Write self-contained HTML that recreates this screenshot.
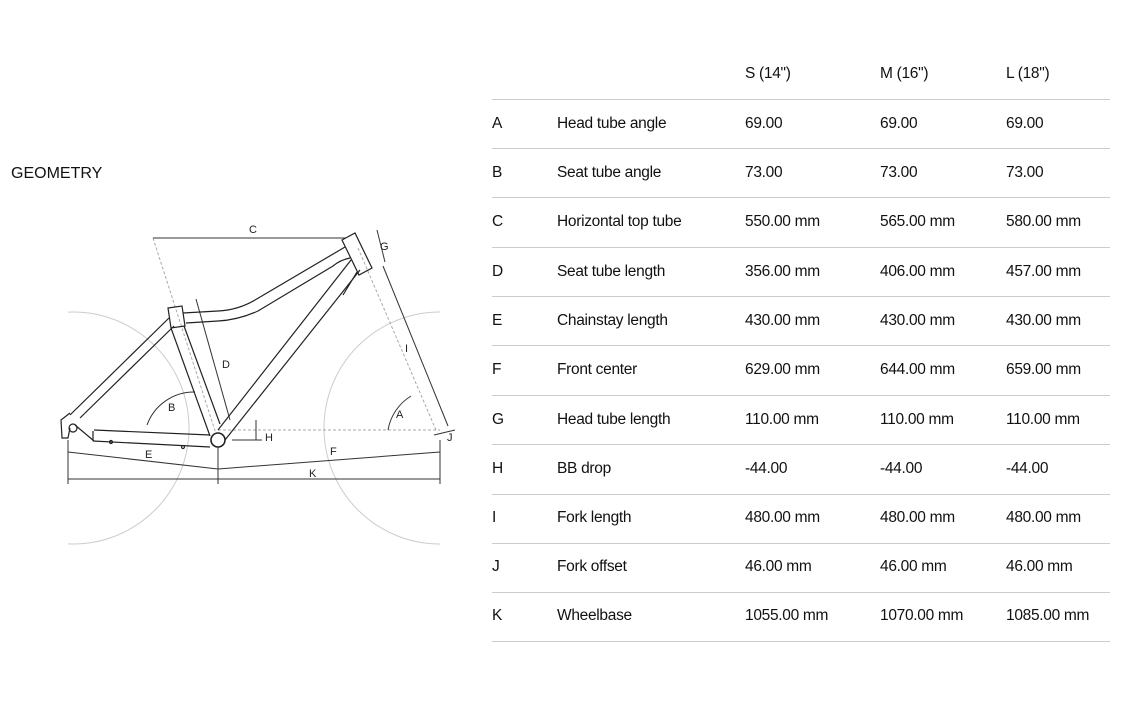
<!DOCTYPE html>
<html><head><meta charset="utf-8"><style>
body{margin:0;width:1134px;height:709px;background:#fff;position:relative;overflow:hidden;font-family:"Liberation Sans",sans-serif;color:#111}
.t{position:absolute;font-size:15.5px;line-height:20px;white-space:nowrap;letter-spacing:-0.3px}
.l{position:absolute;left:492px;width:618px;height:0;border-top:1.5px solid #ccc}
svg{position:absolute;left:0;top:0}
svg text{font-family:"Liberation Sans",sans-serif;font-size:11px;fill:#222}
</style></head><body>
<div class="t" style="left:11px;top:164px;font-size:16px;letter-spacing:0">GEOMETRY</div>
<svg width="500" height="709" viewBox="0 0 500 709">
<defs><clipPath id="cw"><rect x="68" y="0" width="372" height="709"/></clipPath></defs>
<g fill="none" stroke="#ccc" stroke-width="1" clip-path="url(#cw)">
<circle cx="73" cy="428" r="116"/>
<circle cx="440" cy="428" r="116"/>
</g>
<g fill="none" stroke="#aaa" stroke-width="1" stroke-dasharray="3,2">
<line x1="218" y1="430" x2="440" y2="430"/>
<line x1="153" y1="238" x2="218" y2="440"/>
<line x1="358" y1="248" x2="436" y2="430"/>
</g>
<g fill="none" stroke="#333" stroke-width="1">
<line x1="153" y1="238" x2="345" y2="238"/>
<line x1="68" y1="479" x2="440" y2="479"/>
<line x1="68" y1="440" x2="68" y2="484"/>
<line x1="440" y1="440" x2="440" y2="484"/>
<line x1="218" y1="440" x2="218" y2="484"/>
<line x1="68" y1="452" x2="218" y2="469"/>
<line x1="218" y1="469" x2="440" y2="452"/>
<line x1="383" y1="266" x2="448" y2="426"/>
<line x1="377" y1="230" x2="385" y2="262"/>
<line x1="196" y1="299" x2="230" y2="420"/>
<line x1="256" y1="420" x2="256" y2="440"/>
<line x1="232" y1="440" x2="262" y2="440"/>
<path d="M147,425 A 50 50 0 0 1 195,392"/>
<path d="M388,430 A 50 50 0 0 1 411,396"/>
<line x1="434" y1="435" x2="455" y2="430"/>
</g>
<g fill="none" stroke="#222" stroke-width="1.2">
<polygon points="342,240 355,233 372,268 359,275"/>
<path d="M183,313 L218,311 Q238,310 255,300 L345,247"/>
<path d="M186,323 L218,321 Q238,320 258,311 L333,266 Q340,260 350,258"/>
<path d="M351,260 L218,430"/>
<path d="M360,270 L225,440"/>
<line x1="357" y1="272" x2="343" y2="295"/>
<polygon points="168,308 182,306 185,326 171,328"/>
<line x1="171" y1="328" x2="210" y2="436"/>
<line x1="184" y1="326" x2="220" y2="424"/>
<line x1="169" y1="318" x2="70" y2="415"/>
<line x1="174" y1="326" x2="80" y2="418"/>
<line x1="94" y1="430" x2="210" y2="435"/>
<line x1="93" y1="441" x2="210" y2="447"/>
<line x1="75" y1="425" x2="94" y2="441"/>
<line x1="93" y1="431" x2="93" y2="441"/>
<path d="M70,413 L61,420 L62,438 L68,438 L70,428"/>
<circle cx="73" cy="428" r="4"/>
<circle cx="218" cy="440" r="7" fill="#fff" stroke-width="1.6"/>
<circle cx="111" cy="442" r="1.5"/>
<circle cx="183" cy="447" r="1.5"/>
</g>
<text x="249" y="233">C</text>
<text x="380" y="250">G</text>
<text x="222" y="368">D</text>
<text x="405" y="352">I</text>
<text x="168" y="411">B</text>
<text x="396" y="418">A</text>
<text x="265" y="441">H</text>
<text x="447" y="441">J</text>
<text x="145" y="458">E</text>
<text x="330" y="455">F</text>
<text x="309" y="477">K</text>
</svg>

<div class="t" style="left:745px;top:64px">S (14")</div>
<div class="t" style="left:880px;top:64px">M (16")</div>
<div class="t" style="left:1006px;top:64px">L (18")</div>

<div class="l" style="top:99px"></div>
<div class="l" style="top:148px"></div>
<div class="l" style="top:197px"></div>
<div class="l" style="top:247px"></div>
<div class="l" style="top:296px"></div>
<div class="l" style="top:345px"></div>
<div class="l" style="top:395px"></div>
<div class="l" style="top:444px"></div>
<div class="l" style="top:494px"></div>
<div class="l" style="top:543px"></div>
<div class="l" style="top:592px"></div>
<div class="l" style="top:641px"></div>

<div class="t" style="left:492px;top:114px">A</div><div class="t" style="left:557px;top:114px">Head tube angle</div><div class="t" style="left:745px;top:114px">69.00</div><div class="t" style="left:880px;top:114px">69.00</div><div class="t" style="left:1006px;top:114px">69.00</div>
<div class="t" style="left:492px;top:163px">B</div><div class="t" style="left:557px;top:163px">Seat tube angle</div><div class="t" style="left:745px;top:163px">73.00</div><div class="t" style="left:880px;top:163px">73.00</div><div class="t" style="left:1006px;top:163px">73.00</div>
<div class="t" style="left:492px;top:212px">C</div><div class="t" style="left:557px;top:212px">Horizontal top tube</div><div class="t" style="left:745px;top:212px">550.00 mm</div><div class="t" style="left:880px;top:212px">565.00 mm</div><div class="t" style="left:1006px;top:212px">580.00 mm</div>
<div class="t" style="left:492px;top:262px">D</div><div class="t" style="left:557px;top:262px">Seat tube length</div><div class="t" style="left:745px;top:262px">356.00 mm</div><div class="t" style="left:880px;top:262px">406.00 mm</div><div class="t" style="left:1006px;top:262px">457.00 mm</div>
<div class="t" style="left:492px;top:311px">E</div><div class="t" style="left:557px;top:311px">Chainstay length</div><div class="t" style="left:745px;top:311px">430.00 mm</div><div class="t" style="left:880px;top:311px">430.00 mm</div><div class="t" style="left:1006px;top:311px">430.00 mm</div>
<div class="t" style="left:492px;top:360px">F</div><div class="t" style="left:557px;top:360px">Front center</div><div class="t" style="left:745px;top:360px">629.00 mm</div><div class="t" style="left:880px;top:360px">644.00 mm</div><div class="t" style="left:1006px;top:360px">659.00 mm</div>
<div class="t" style="left:492px;top:410px">G</div><div class="t" style="left:557px;top:410px">Head tube length</div><div class="t" style="left:745px;top:410px">110.00 mm</div><div class="t" style="left:880px;top:410px">110.00 mm</div><div class="t" style="left:1006px;top:410px">110.00 mm</div>
<div class="t" style="left:492px;top:459px">H</div><div class="t" style="left:557px;top:459px">BB drop</div><div class="t" style="left:745px;top:459px">-44.00</div><div class="t" style="left:880px;top:459px">-44.00</div><div class="t" style="left:1006px;top:459px">-44.00</div>
<div class="t" style="left:492px;top:508px">I</div><div class="t" style="left:557px;top:508px">Fork length</div><div class="t" style="left:745px;top:508px">480.00 mm</div><div class="t" style="left:880px;top:508px">480.00 mm</div><div class="t" style="left:1006px;top:508px">480.00 mm</div>
<div class="t" style="left:492px;top:557px">J</div><div class="t" style="left:557px;top:557px">Fork offset</div><div class="t" style="left:745px;top:557px">46.00 mm</div><div class="t" style="left:880px;top:557px">46.00 mm</div><div class="t" style="left:1006px;top:557px">46.00 mm</div>
<div class="t" style="left:492px;top:606px">K</div><div class="t" style="left:557px;top:606px">Wheelbase</div><div class="t" style="left:745px;top:606px">1055.00 mm</div><div class="t" style="left:880px;top:606px">1070.00 mm</div><div class="t" style="left:1006px;top:606px">1085.00 mm</div>
</body></html>
